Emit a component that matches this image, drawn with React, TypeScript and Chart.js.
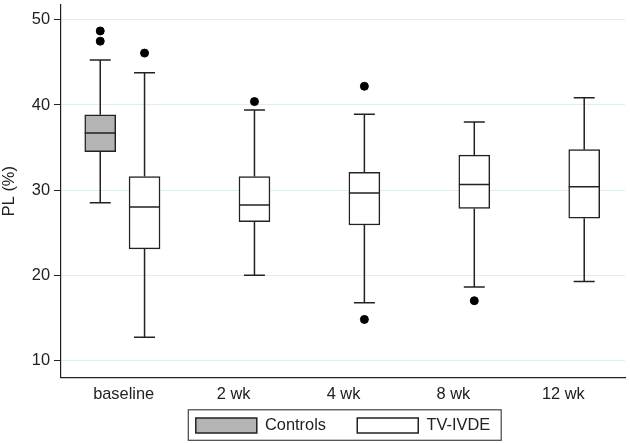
import React, { useEffect, useRef } from "react";
import { Chart, registerables } from "chart.js";

Chart.register(...registerables);

// ---- data ----
const categories = ["baseline", "2 wk", "4 wk", "8 wk", "12 wk"];
const yTicks = [10, 20, 30, 40, 50];
const seriesNames = ["Controls", "TV-IVDE"];

// Controls (baseline only)
const ctrlCat = [0];
const ctrlLow = [28.5];
const ctrlQ1 = [34.5];
const ctrlMed = [36.7];
const ctrlQ3 = [38.85];
const ctrlHigh = [45.3];
const ctrlOutliers = [[48.7, 47.5]];

// TV-IVDE
const tvCat = [0, 1, 2, 3, 4];
const tvLow = [12.7, 20.0, 16.75, 18.6, 19.25];
const tvQ1 = [23.1, 26.3, 25.9, 27.85, 26.7];
const tvMed = [28.0, 28.25, 29.65, 30.65, 30.4];
const tvQ3 = [31.6, 31.6, 32.1, 34.1, 34.75];
const tvHigh = [43.8, 39.4, 38.9, 38.0, 40.85];
const tvOutliers = [[46.1], [40.4], [42.2, 14.8], [17.0], []];

// ---- styling ----
const CTRL_OFF = -0.213;
const TV_OFF = 0.19;
const BOX_W = 31;
const CAP_W = 21;
const LINE = "#222222";
const FONT = "'Liberation Sans', Arial, sans-serif";
const FS = 16.4;
const LEGEND_GAP = "    "; // extra horizontal room between legend entries

type Stats = { low: number[]; med: number[]; high: number[]; q1: number[]; q3: number[]; xs: number[] };

const whiskerPlugin = {
  id: "whiskers",
  afterDatasetsDraw(chart: any) {
    const { ctx } = chart;
    const xs = chart.scales.x;
    const ys = chart.scales.y;
    chart.data.datasets.forEach((ds: any) => {
      const st: Stats | undefined = ds.stats;
      if (!st) return;
      ctx.save();
      ctx.strokeStyle = LINE;
      ctx.lineWidth = 1.5;
      st.xs.forEach((xv, i) => {
        const px = xs.getPixelForValue(xv);
        const pMed = ys.getPixelForValue(st.med[i]);
        const pLow = ys.getPixelForValue(st.low[i]);
        const pHigh = ys.getPixelForValue(st.high[i]);
        const pQ1 = ys.getPixelForValue(st.q1[i]);
        const pQ3 = ys.getPixelForValue(st.q3[i]);
        ctx.beginPath();
        ctx.moveTo(px - BOX_W / 2, pMed);
        ctx.lineTo(px + BOX_W / 2, pMed);
        ctx.moveTo(px, pQ3);
        ctx.lineTo(px, pHigh);
        ctx.moveTo(px - CAP_W / 2, pHigh);
        ctx.lineTo(px + CAP_W / 2, pHigh);
        ctx.moveTo(px, pQ1);
        ctx.lineTo(px, pLow);
        ctx.moveTo(px - CAP_W / 2, pLow);
        ctx.lineTo(px + CAP_W / 2, pLow);
        ctx.stroke();
      });
      ctx.restore();
    });
  },
};

const legendBorderPlugin = {
  id: "legendBorder",
  afterDraw(chart: any) {
    const lg = chart.legend;
    if (!lg || !lg.legendHitBoxes || !lg.legendHitBoxes.length) return;
    const boxes = lg.legendHitBoxes;
    const first = boxes[0];
    const last = boxes[boxes.length - 1];
    const left = first.left - 7.5;
    const right = last.left + last.width + 11;
    const top = first.top - 7.5;
    const bottom = first.top + 23;
    const { ctx } = chart;
    ctx.save();
    ctx.strokeStyle = "#444444";
    ctx.lineWidth = 1.2;
    ctx.strokeRect(left, top, right - left, bottom - top);
    ctx.restore();
  },
};

export default function App() {
  const ref = useRef<HTMLCanvasElement>(null);

  useEffect(() => {
    if (!ref.current) return;
    const ctrlStats: Stats = {
      xs: ctrlCat.map((c) => c + CTRL_OFF),
      low: ctrlLow, q1: ctrlQ1, med: ctrlMed, q3: ctrlQ3, high: ctrlHigh,
    };
    const tvStats: Stats = {
      xs: tvCat.map((c) => c + TV_OFF),
      low: tvLow, q1: tvQ1, med: tvMed, q3: tvQ3, high: tvHigh,
    };
    const outlierPts: { x: number; y: number }[] = [];
    ctrlOutliers.forEach((arr, i) => arr.forEach((v) => outlierPts.push({ x: ctrlCat[i] + CTRL_OFF, y: v })));
    tvOutliers.forEach((arr, i) => arr.forEach((v) => outlierPts.push({ x: tvCat[i] + TV_OFF, y: v })));

    const defaultLabels = Chart.defaults.plugins.legend.labels.generateLabels;

    const chart = new Chart(ref.current, {
      type: "bar",
      data: {
        datasets: [
          {
            label: seriesNames[0],
            data: ctrlQ1.map((q, i) => ({ x: ctrlStats.xs[i], y: [q, ctrlQ3[i]] })) as any,
            backgroundColor: "#b4b4b4",
            borderColor: LINE,
            borderWidth: 1.5,
            borderSkipped: false,
            barThickness: BOX_W,
            grouped: false,
            stats: ctrlStats,
          } as any,
          {
            label: seriesNames[1],
            data: tvQ1.map((q, i) => ({ x: tvStats.xs[i], y: [q, tvQ3[i]] })) as any,
            backgroundColor: "#ffffff",
            borderColor: LINE,
            borderWidth: 1.5,
            borderSkipped: false,
            barThickness: BOX_W,
            grouped: false,
            stats: tvStats,
          } as any,
          {
            type: "scatter",
            label: "outliers",
            data: outlierPts,
            backgroundColor: "#000000",
            borderColor: "#000000",
            pointRadius: 4,
            pointHoverRadius: 4,
          } as any,
        ],
      },
      options: {
        animation: false,
        responsive: false,
        maintainAspectRatio: false,
        layout: { padding: { top: 0, right: 2, bottom: -0.7, left: 0 } },
        plugins: {
          tooltip: { enabled: false },
          legend: {
            position: "bottom",
            fullSize: false,
            labels: {
              boxWidth: 61,
              boxHeight: 15,
              padding: 13,
              color: "#222222",
              font: { family: FONT, size: FS },
              filter: (item: any) => item.datasetIndex < 2,
              generateLabels: (c: any) => {
                const items = defaultLabels(c);
                return items.map((it: any, idx: number) =>
                  idx === 0 ? { ...it, text: it.text + LEGEND_GAP } : it
                );
              },
            },
          },
        },
        scales: {
          x: {
            type: "linear",
            min: -0.57,
            max: 4.561,
            offset: false,
            afterBuildTicks: (s: any) => {
              s.ticks = categories.map((_, i) => ({ value: i }));
            },
            afterFit: (s: any) => {
              s.height = 27;
            },
            ticks: {
              callback: (v: any) => categories[Number(v)] ?? "",
              color: "#222222",
              font: { family: FONT, size: FS },
              padding: 7,
              maxRotation: 0,
              autoSkip: false,
            },
            grid: { display: false, drawTicks: false },
            border: { display: true, color: LINE, width: 1.2 },
          },
          y: {
            type: "linear",
            min: 8,
            max: 51.75,
            afterBuildTicks: (s: any) => {
              s.ticks = yTicks.map((v) => ({ value: v }));
            },
            afterFit: (s: any) => {
              s.width = 61;
              s.paddingTop = 0;
              s.paddingBottom = 0;
            },
            ticks: {
              color: "#222222",
              font: { family: FONT, size: FS },
              padding: 4,
            },
            grid: {
              color: "#e2eeee",
              lineWidth: 1,
              drawTicks: true,
              tickLength: 7,
              tickColor: LINE,
            },
            border: { display: true, color: LINE, width: 1.2 },
            title: {
              display: true,
              text: "PL (%)",
              color: "#222222",
              font: { family: FONT, size: FS },
              padding: 0,
            },
          },
        },
      },
      plugins: [whiskerPlugin, legendBorderPlugin],
    });
    return () => chart.destroy();
  }, []);

  return (
    <div style={{ position: "fixed", left: 0, top: 0, width: 630, height: 443, background: "#fff" }}>
      <canvas ref={ref} width={630} height={443} style={{ width: 630, height: 443 }} />
    </div>
  );
}
